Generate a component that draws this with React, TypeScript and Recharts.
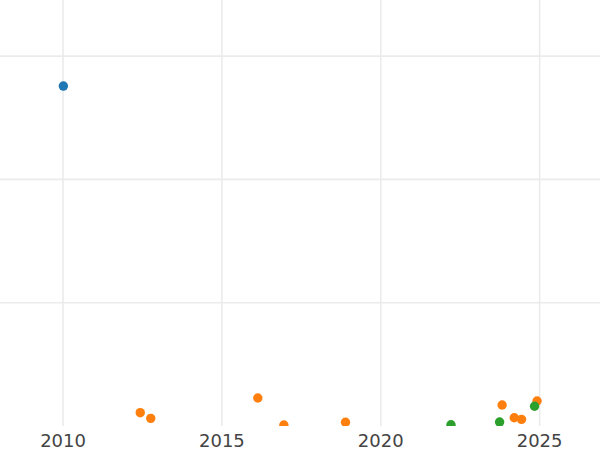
import { ScatterChart, Scatter, XAxis, YAxis, CartesianGrid } from "recharts";

const yearTicks = [2010, 2015, 2020, 2025];
const valueTicks = [10, 20, 30];

const blueYears = [2010.01];
const blueValues = [27.57];

const orangeYears = [2012.43, 2012.76, 2016.13, 2016.95, 2018.89, 2023.82, 2024.2, 2024.43, 2024.92];
const orangeValues = [1.08, 0.62, 2.27, 0.08, 0.3, 1.7, 0.67, 0.54, 2.03];

const greenYears = [2022.21, 2023.74, 2024.84];
const greenValues = [0.1, 0.32, 1.6];

const toPoints = (xs: number[], ys: number[]) => xs.map((x, i) => ({ x, y: ys[i] }));

const dot = (color: string) => (p: any) => <circle cx={p.cx} cy={p.cy} r={4.7} fill={color} />;

export default function App() {
  return (
    <div style={{ position: "absolute", left: 0, top: 0 }}>
      <ScatterChart width={600} height={450} margin={{ top: 0, right: 0, bottom: 0, left: 0 }}>
        <CartesianGrid stroke="#ebebeb" strokeWidth={1.6} syncWithTicks />
        <XAxis
          type="number"
          dataKey="x"
          domain={[2008.016, 2026.9]}
          allowDataOverflow
          ticks={yearTicks}
          axisLine={false}
          tickLine={false}
          height={24}
          tick={{ fill: "#444", fontSize: 18, fontFamily: "DejaVu Sans" }}
        />
        <YAxis type="number" dataKey="y" domain={[0, 34.55]} allowDataOverflow ticks={valueTicks} hide />
        <Scatter data={toPoints(blueYears, blueValues)} shape={dot("#1f77b4")} isAnimationActive={false} />
        <Scatter data={toPoints(orangeYears, orangeValues)} shape={dot("#ff7f0e")} isAnimationActive={false} />
        <Scatter data={toPoints(greenYears, greenValues)} shape={dot("#2ca02c")} isAnimationActive={false} />
      </ScatterChart>
    </div>
  );
}
